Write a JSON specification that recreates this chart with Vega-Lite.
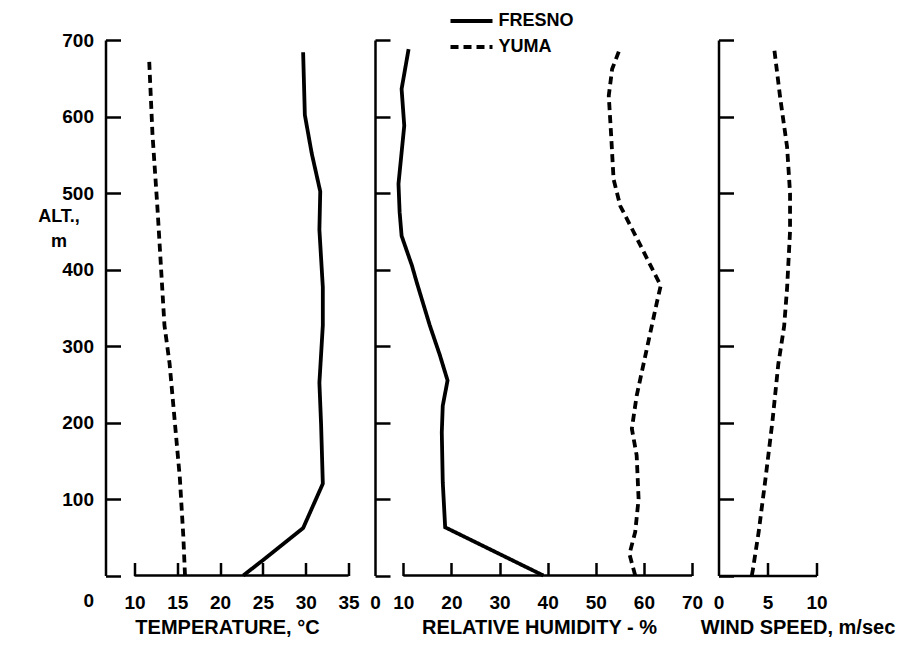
{
  "$schema": "https://vega.github.io/schema/vega-lite/v6.json",
  "autosize": {"type": "pad"},
  "padding": {"left": 37.5, "top": 12, "right": 2, "bottom": 2},
  "background": "white",
  "config": {
    "view": {"stroke": null},
    "font": "Liberation Sans",
    "axis": {
      "grid": false,
      "labelFont": "Liberation Sans",
      "labelFontSize": 19,
      "labelFontWeight": "bold",
      "labelColor": "black",
      "titleFont": "Liberation Sans",
      "titleFontSize": 20,
      "titleFontWeight": "bold",
      "titleColor": "black",
      "domainColor": "black",
      "domainWidth": 2.5,
      "tickColor": "black",
      "tickWidth": 2.5,
      "labelFlush": false,
      "labelOverlap": false
    },
    "line": {"strokeWidth": 3.8, "color": "black"}
  },
  "datasets": {
    "temp": [
      {"city": "FRESNO", "alt": 684, "value": 29.7},
      {"city": "FRESNO", "alt": 602, "value": 29.9},
      {"city": "FRESNO", "alt": 552, "value": 30.7},
      {"city": "FRESNO", "alt": 502, "value": 31.7},
      {"city": "FRESNO", "alt": 452, "value": 31.6},
      {"city": "FRESNO", "alt": 377, "value": 32.0},
      {"city": "FRESNO", "alt": 327, "value": 32.0},
      {"city": "FRESNO", "alt": 252, "value": 31.6},
      {"city": "FRESNO", "alt": 197, "value": 31.8},
      {"city": "FRESNO", "alt": 120, "value": 32.0},
      {"city": "FRESNO", "alt": 62, "value": 29.7},
      {"city": "FRESNO", "alt": 20, "value": 25.0},
      {"city": "FRESNO", "alt": 0, "value": 22.7},
      {"city": "YUMA", "alt": 677, "value": 11.7},
      {"city": "YUMA", "alt": 577, "value": 12.1},
      {"city": "YUMA", "alt": 477, "value": 12.7},
      {"city": "YUMA", "alt": 402, "value": 13.1},
      {"city": "YUMA", "alt": 327, "value": 13.5},
      {"city": "YUMA", "alt": 277, "value": 14.1},
      {"city": "YUMA", "alt": 202, "value": 14.7},
      {"city": "YUMA", "alt": 127, "value": 15.3},
      {"city": "YUMA", "alt": 52, "value": 15.7},
      {"city": "YUMA", "alt": 0, "value": 15.9}
    ],
    "hum": [
      {"city": "FRESNO", "alt": 688, "value": 11.1},
      {"city": "FRESNO", "alt": 636, "value": 9.4},
      {"city": "FRESNO", "alt": 588, "value": 10.2},
      {"city": "FRESNO", "alt": 512, "value": 8.3},
      {"city": "FRESNO", "alt": 475, "value": 8.7},
      {"city": "FRESNO", "alt": 444, "value": 9.4},
      {"city": "FRESNO", "alt": 405, "value": 11.8},
      {"city": "FRESNO", "alt": 383, "value": 12.8},
      {"city": "FRESNO", "alt": 327, "value": 15.5},
      {"city": "FRESNO", "alt": 288, "value": 17.6},
      {"city": "FRESNO", "alt": 255, "value": 19.2},
      {"city": "FRESNO", "alt": 222, "value": 18.2},
      {"city": "FRESNO", "alt": 187, "value": 18.0},
      {"city": "FRESNO", "alt": 122, "value": 18.2},
      {"city": "FRESNO", "alt": 63, "value": 18.7},
      {"city": "FRESNO", "alt": 0, "value": 39.1},
      {"city": "YUMA", "alt": 690, "value": 55.1},
      {"city": "YUMA", "alt": 662, "value": 53.4},
      {"city": "YUMA", "alt": 627, "value": 52.7},
      {"city": "YUMA", "alt": 575, "value": 53.2},
      {"city": "YUMA", "alt": 518, "value": 53.7},
      {"city": "YUMA", "alt": 483, "value": 55.1},
      {"city": "YUMA", "alt": 440, "value": 58.6},
      {"city": "YUMA", "alt": 405, "value": 61.4},
      {"city": "YUMA", "alt": 379, "value": 63.5},
      {"city": "YUMA", "alt": 357, "value": 62.7},
      {"city": "YUMA", "alt": 296, "value": 60.6},
      {"city": "YUMA", "alt": 235, "value": 58.5},
      {"city": "YUMA", "alt": 192, "value": 57.5},
      {"city": "YUMA", "alt": 157, "value": 58.5},
      {"city": "YUMA", "alt": 100, "value": 58.9},
      {"city": "YUMA", "alt": 57, "value": 58.2},
      {"city": "YUMA", "alt": 28, "value": 57.0},
      {"city": "YUMA", "alt": 0, "value": 58.2}
    ],
    "wind": [
      {"city": "YUMA", "alt": 687, "value": 5.7},
      {"city": "YUMA", "alt": 624, "value": 6.3},
      {"city": "YUMA", "alt": 560, "value": 7.0},
      {"city": "YUMA", "alt": 500, "value": 7.3},
      {"city": "YUMA", "alt": 450, "value": 7.3},
      {"city": "YUMA", "alt": 376, "value": 7.0},
      {"city": "YUMA", "alt": 326, "value": 6.7},
      {"city": "YUMA", "alt": 276, "value": 6.1},
      {"city": "YUMA", "alt": 201, "value": 5.5},
      {"city": "YUMA", "alt": 127, "value": 4.8},
      {"city": "YUMA", "alt": 57, "value": 4.1},
      {"city": "YUMA", "alt": 7, "value": 3.5},
      {"city": "YUMA", "alt": 0, "value": 3.4}
    ]
  },
  "spacing": 26.5,
  "bounds": "flush",
  "resolve": {"scale": {"strokeDash": "shared"}, "legend": {"strokeDash": "shared"}},
  "hconcat": [
    {
      "width": 243,
      "height": 535.5,
      "layer": [
        {
          "data": {"values": [{}]},
          "mark": {"type": "rule", "strokeWidth": 2.5, "color": "black"},
          "encoding": {"x": {"datum": 10}, "x2": {"datum": 35}, "y": {"datum": 0}}
        },
        {
          "data": {"name": "temp"},
          "mark": {"type": "line"},
          "encoding": {
            "x": {
              "field": "value", "type": "quantitative",
              "scale": {"domain": [0, 10, 35], "range": [0, 29, 243]},
              "axis": {
                "values": [10, 15, 20, 25, 30, 35], "domain": false, "tickSize": -13,
                "labelPadding": 46, "labelBaseline": "alphabetic",
                "title": "TEMPERATURE, °C", "titleBaseline": "alphabetic", "titleY": 57.5
              }
            },
            "y": {
              "field": "alt", "type": "quantitative",
              "scale": {"domain": [0, 700]},
              "axis": {
                "values": [0, 100, 200, 300, 400, 500, 600, 700], "tickSize": -15,
                "labelPadding": 27,
                "labelOffset": {"condition": {"test": "datum.value === 0", "value": 24.5}, "value": 0},
                "title": ["ALT.,", "m"], "titleAngle": 0, "titleAlign": "center",
                "titleBaseline": "alphabetic", "titleX": -47, "titleY": 181,
                "titleLineHeight": 25, "titleFontSize": 18
              }
            },
            "strokeDash": {
              "field": "city", "type": "nominal",
              "scale": {"domain": ["FRESNO", "YUMA"], "range": [[1, 0], [8, 5]]},
              "legend": {
                "title": null, "orient": "none", "legendX": 357, "legendY": -28,
                "symbolType": "M-3,0H3", "symbolSize": 196, "symbolStrokeWidth": 3.5,
                "symbolStrokeColor": "black",
                "labelFont": "Liberation Sans",
                "labelFontSize": 18, "labelFontWeight": "bold", "labelColor": "black",
                "labelOffset": 18, "rowPadding": 8, "padding": 0, "symbolOffset": 0
              }
            },
            "order": {"field": "alt", "type": "quantitative"}
          }
        }
      ]
    },
    {
      "width": 317,
      "height": 535.5,
      "layer": [
        {
          "data": {"values": [{}]},
          "mark": {"type": "rule", "strokeWidth": 2.5, "color": "black"},
          "encoding": {"x": {"datum": 10}, "x2": {"datum": 70}, "y": {"datum": 0}}
        },
        {
          "data": {"name": "hum"},
          "mark": {"type": "line"},
          "encoding": {
            "x": {
              "field": "value", "type": "quantitative",
              "scale": {"domain": [0, 10, 70], "range": [0, 28.3, 317]},
              "axis": {
                "values": [0, 10, 20, 30, 40, 50, 60, 70], "domain": false, "tickSize": -13,
                "tickOpacity": {"condition": {"test": "datum.value === 0", "value": 0}, "value": 1},
                "labelPadding": 46, "labelBaseline": "alphabetic",
                "title": "RELATIVE HUMIDITY - %", "titleBaseline": "alphabetic", "titleY": 57.5, "titleX": 164
              }
            },
            "y": {
              "field": "alt", "type": "quantitative",
              "scale": {"domain": [0, 700]},
              "axis": {
                "values": [0, 100, 200, 300, 400, 500, 600, 700], "tickSize": -15,
                "labels": false, "title": null
              }
            },
            "strokeDash": {
              "field": "city", "type": "nominal",
              "scale": {"domain": ["FRESNO", "YUMA"], "range": [[1, 0], [8, 5]]},
              "legend": {
                "title": null, "orient": "none", "legendX": 357, "legendY": -28,
                "symbolType": "M-3,0H3", "symbolSize": 196, "symbolStrokeWidth": 3.5,
                "symbolStrokeColor": "black",
                "labelFont": "Liberation Sans",
                "labelFontSize": 18, "labelFontWeight": "bold", "labelColor": "black",
                "labelOffset": 18, "rowPadding": 8, "padding": 0, "symbolOffset": 0
              }
            },
            "order": {"field": "alt", "type": "quantitative"}
          }
        }
      ]
    },
    {
      "width": 98,
      "height": 535.5,
      "layer": [
        {
          "data": {"name": "wind"},
          "mark": {"type": "line"},
          "encoding": {
            "x": {
              "field": "value", "type": "quantitative",
              "scale": {"domain": [0, 10]},
              "axis": {
                "values": [0, 5, 10], "tickSize": -13,
                "tickOpacity": {"condition": {"test": "datum.value === 0", "value": 0}, "value": 1},
                "labelPadding": 46, "labelBaseline": "alphabetic",
                "title": "WIND SPEED, m/sec", "titleBaseline": "alphabetic", "titleY": 57.5, "titleX": 79
              }
            },
            "y": {
              "field": "alt", "type": "quantitative",
              "scale": {"domain": [0, 700]},
              "axis": {
                "values": [0, 100, 200, 300, 400, 500, 600, 700], "tickSize": -15,
                "labels": false, "title": null
              }
            },
            "strokeDash": {
              "field": "city", "type": "nominal",
              "scale": {"domain": ["FRESNO", "YUMA"], "range": [[1, 0], [8, 5]]},
              "legend": {
                "title": null, "orient": "none", "legendX": 357, "legendY": -28,
                "symbolType": "M-3,0H3", "symbolSize": 196, "symbolStrokeWidth": 3.5,
                "symbolStrokeColor": "black",
                "labelFont": "Liberation Sans",
                "labelFontSize": 18, "labelFontWeight": "bold", "labelColor": "black",
                "labelOffset": 18, "rowPadding": 8, "padding": 0, "symbolOffset": 0
              }
            },
            "order": {"field": "alt", "type": "quantitative"}
          }
        }
      ]
    }
  ]
}
